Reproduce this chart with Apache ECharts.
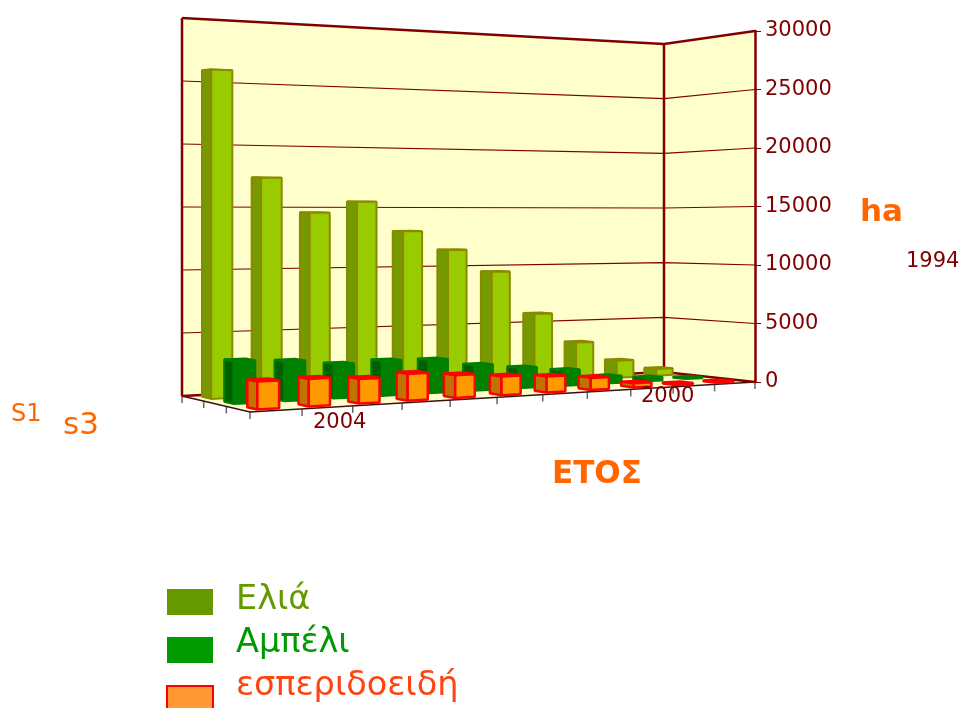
<!DOCTYPE html>
<html>
<head>
<meta charset="utf-8">
<style>
  html, body { margin: 0; padding: 0; background: #fff; overflow: hidden; }
  #chart { width: 962px; height: 708px; }
</style>
<script src="https://cdn.jsdelivr.net/npm/echarts@6/dist/echarts.min.js"></script>
</head>
<body>
<div id="chart"></div>
<script>
const categories = ['', '', '2004', '', '', '', '', '', '', '2000', ''];
const yTicks = [0, 5000, 10000, 15000, 20000, 25000, 30000];
const seriesNames = ['Ελιά', 'Αμπέλι', 'εσπεριδοειδή'];
const olive = [25850, 17400, 14600, 15500, 13050, 11450, 9550, 5850, 3250, 1500, 600];
const vine = [3300, 3100, 2700, 2800, 2700, 2100, 1700, 1300, 600, 300, 100];
const citrus = [2100, 2100, 1900, 2100, 1800, 1500, 1300, 1000, 350, 80, 50];

// floor corners: back-left, back-right, front-right, front-left
const cornerX = [182, 664, 755, 250];
const cornerY = [396, 372, 382, 412];
const cornerH = [378, 328, 351, 403];
const cornerW = [1, 1.152, 1.077, 0.937];

const GRID_LEFT = 182;
const GRID_TOP = 31;
const GRID_W = 573;
const GRID_H = 351;

const FRAME = '#800000';
const TEXT = '#7f0000';
const FONT = '"DejaVu Sans", Verdana, sans-serif';

// u along the years, w from back (0) to front (1), h wall height fraction
function project(u, w, h) {
  const b = [(1 - u) * (1 - w), u * (1 - w), u * w, (1 - u) * w];
  let sw = 0, sx = 0, sy = 0;
  for (let i = 0; i < 4; i++) {
    const k = b[i] * cornerW[i];
    sw += k;
    sx += k * cornerX[i];
    sy += k * (cornerY[i] - h * cornerH[i]);
  }
  return [sx / sw, sy / sw];
}

function poly(points, fill, stroke, width) {
  return {
    type: 'polygon',
    shape: { points },
    style: { fill, stroke, lineWidth: width, lineJoin: 'bevel' }
  };
}

function line(points, stroke, width) {
  return {
    type: 'polyline',
    shape: { points },
    style: { fill: null, stroke, lineWidth: width }
  };
}

function renderFrame() {
  const cream = '#ffffcc';
  const kids = [
    poly([project(0, 0, 0), project(1, 0, 0), project(1, 1, 0), project(0, 1, 0)], cream, null, 0),
    poly([project(0, 0, 0), project(1, 0, 0), project(1, 0, 1), project(0, 0, 1)], cream, null, 0),
    poly([project(1, 0, 0), project(1, 1, 0), project(1, 1, 1), project(1, 0, 1)], cream, null, 0)
  ];
  // ticks below the floor edges
  for (let i = 0; i <= categories.length; i++) {
    const p = project(i / categories.length, 1, 0);
    kids.push(line([p, [p[0], p[1] + 7]], '#666', 1.5));
  }
  for (let i = 0; i < 3; i++) {
    const p = project(0, i / 3, 0);
    kids.push(line([p, [p[0], p[1] + 7]], '#666', 1.5));
  }
  kids.push(line([project(0, 0, 0), project(0, 1, 0), project(1, 1, 0)], '#3a1010', 1.5));
  return { type: 'group', children: kids };
}

function renderGridline(params, api) {
  const y = api.coord([0, api.value(1)])[1];
  const h = (GRID_TOP + GRID_H - y) / GRID_H;
  const heavy = h <= 0 || h >= 1;
  return line([project(0, 0, h), project(1, 0, h), project(1, 1, h)], FRAME, heavy ? 2.5 : 1.2);
}

function renderEdges() {
  return {
    type: 'group',
    children: [
      line([project(0, 0, 0), project(0, 0, 1)], FRAME, 2.5),
      line([project(1, 0, 0), project(1, 0, 1)], FRAME, 2.5)
    ]
  };
}

function barRenderer(row, colors) {
  return function (params, api) {
    const c = api.coord([api.value(0), api.value(1)]);
    const band = api.size([1, 0])[0];
    const u = (c[0] - GRID_LEFT) / GRID_W - 0.0015;
    const du = band * 0.21 / GRID_W;
    const w = (row + 0.5) / 3;
    const dw = 0.21 / 3;
    const h = (GRID_TOP + GRID_H - c[1]) / GRID_H;
    const bl = project(u - du, w - dw, 0);
    const fl = project(u - du, w + dw, 0);
    const fr = project(u + du, w + dw, 0);
    const tbl = project(u - du, w - dw, h);
    const tfl = project(u - du, w + dw, h);
    const tfr = project(u + du, w + dw, h);
    const tbr = project(u + du, w - dw, h);
    return {
      type: 'group',
      children: [
        poly([tbl, tbr, tfr, tfl], colors.side, colors.stroke, colors.width),
        poly([bl, fl, tfl, tbl], colors.side, colors.stroke, colors.width),
        poly([fl, fr, tfr, tfl], colors.front, colors.stroke, colors.width)
      ]
    };
  };
}

function barSeries(values, row, colors) {
  return {
    name: seriesNames[row],
    type: 'custom',
    clip: false,
    silent: true,
    renderItem: barRenderer(row, colors),
    data: values.map((v, i) => [i, v])
  };
}

function label(text, x, y, size, color, bold) {
  return {
    type: 'text',
    x, y,
    z: 20,
    style: {
      text,
      fill: color,
      font: (bold ? 'bold ' : '') + size + 'px ' + FONT,
      textAlign: 'left',
      textVerticalAlign: 'middle'
    }
  };
}

function legendRect(y, fill, stroke) {
  return {
    type: 'rect',
    z: 20,
    shape: { x: 167, y, width: 46, height: 26 },
    style: { fill, stroke, lineWidth: stroke ? 2 : 0 }
  };
}

const chart = echarts.init(document.getElementById('chart'), null, { renderer: 'canvas' });
chart.setOption({
  animation: false,
  backgroundColor: '#fff',
  grid: { left: GRID_LEFT, top: GRID_TOP, width: GRID_W, height: GRID_H },
  xAxis: { type: 'category', data: categories, show: false },
  yAxis: {
    type: 'value',
    position: 'right',
    min: 0,
    max: 30000,
    interval: 5000,
    z: 10,
    splitLine: { show: false },
    axisLine: { show: true, lineStyle: { color: FRAME, width: 2.5 } },
    axisTick: { show: true, length: 6, lineStyle: { color: FRAME, width: 1 } },
    axisLabel: { color: TEXT, fontSize: 21, fontFamily: FONT, margin: 10, padding: [2, 0, 0, 0], formatter: v => String(v) }
  },
  graphic: [
    label('2004', 313, 423, 21, TEXT),
    label('2000', 641, 397, 21, TEXT),
    label('1994', 906, 262, 21, TEXT),
    label('ha', 860, 213, 31, '#ff6600', true),
    label('ΕΤΟΣ', 552, 475, 31, '#ff6600', true),
    label('S1', 11, 415, 24, '#ff6600'),
    label('s3', 63, 426, 31, '#ff6600'),
    legendRect(589, '#669900'),
    legendRect(637, '#009900'),
    legendRect(686, '#ff9933', '#ff0000'),
    label(seriesNames[0], 236, 600, 33.5, '#669900'),
    label(seriesNames[1], 236, 643, 33.5, '#009900'),
    label(seriesNames[2], 236, 686, 33.5, '#ff4411')
  ],
  series: [
    { type: 'custom', silent: true, clip: false, renderItem: renderFrame, data: [[0, 0]] },
    { type: 'custom', silent: true, clip: false, renderItem: renderGridline, data: yTicks.map(v => [0, v]) },
    { type: 'custom', silent: true, clip: false, renderItem: renderEdges, data: [[0, 0]] },
    barSeries(olive, 0, { front: '#99cc00', side: '#749a00', stroke: '#8a8a00', width: 2 }),
    barSeries(vine, 1, { front: '#008000', side: '#006000', stroke: '#008000', width: 2 }),
    barSeries(citrus, 2, { front: '#ff9900', side: '#bf7300', stroke: '#ff0000', width: 2.5 })
  ]
});
</script>
</body>
</html>
